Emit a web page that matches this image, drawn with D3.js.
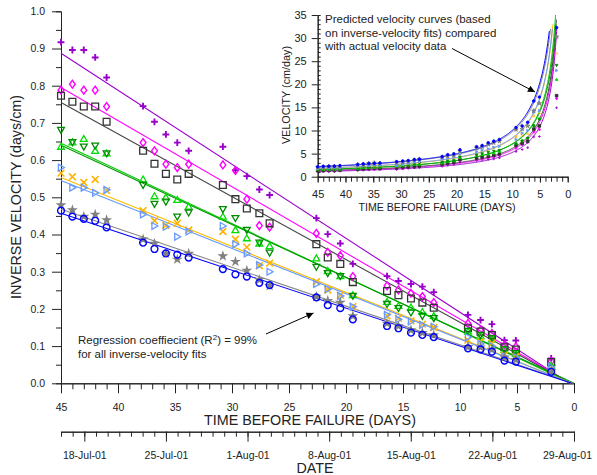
<!DOCTYPE html>
<html>
<head>
<meta charset="utf-8">
<title>Inverse velocity vs time before failure</title>
<script src="https://d3js.org/d3.v7.min.js"></script>
<style>
  body { margin: 0; background: #fff; }
  svg { font-family: "Liberation Sans", Arial, sans-serif; }
  .axis path, .axis line { stroke: #222; }
  .axis text { fill: #222; }
</style>
</head>
<body>
<div id="chart"></div>
<script>
// days before failure at which readings were plotted
const days = [45, 44, 43, 42, 41, 37.8, 36.8, 35.8, 34.8, 33.8,
  30.8, 29.7, 28.7, 27.6, 26.7, 22.6, 21.6, 20.5, 19.4,
  16.4, 15.4, 14.3, 13.3, 12.3, 9.3, 8.2, 7.2, 6.1, 5.1, 2.0];

// inverse velocity (days/cm), one array per monitoring point
const invPurple = [0.917, 0.896, 0.896, 0.876, 0.822, 0.745, 0.703, 0.669, 0.647, 0.625,
  0.636, 0.573, 0.557, 0.521, 0.506, 0.444, 0.401, 0.376, 0.321,
  0.288, 0.275, 0.267, 0.260, 0.245, 0.184, 0.170, 0.159, 0.116, 0.115, 0.067];
const invMagenta = [0.788, 0.804, 0.788, 0.788, 0.744, 0.647, 0.625, 0.589, 0.580, 0.589,
  0.587, 0.572, 0.495, 0.424, 0.420, 0.403, 0.352, 0.343, 0.287,
  0.262, 0.251, 0.242, 0.233, 0.217, 0.161, 0.143, 0.134, 0.103, 0.098, 0.059];
const invBlack = [0.773, 0.757, 0.744, 0.744, 0.703, 0.625, 0.590, 0.563, 0.548, 0.563,
  0.533, 0.495, 0.470, 0.457, 0.430, 0.374, 0.338, 0.321, 0.272,
  0.248, 0.237, 0.228, 0.217, 0.203, 0.148, 0.139, 0.130, 0.097, 0.091, 0.057];
const invGreen = [0.636, 0.648, 0.657, 0.625, 0.618, 0.548, 0.503, 0.500, 0.493, 0.475,
  0.448, 0.412, 0.390, 0.376, 0.369, 0.336, 0.302, 0.288, 0.237,
  0.219, 0.208, 0.204, 0.192, 0.181, 0.139, 0.127, 0.118, 0.090, 0.079, 0.0475];
const invDarkGreen = [0.681, 0.648, 0.636, 0.639, 0.618, 0.533, 0.482, 0.488, 0.448, 0.459,
  0.468, 0.444, 0.412, 0.378, 0.351, 0.313, 0.296, 0.288, 0.235,
  0.213, 0.202, 0.190, 0.181, 0.175, 0.141, 0.130, 0.121, 0.091, 0.081, 0.0415];
const invOrange = [0.565, 0.555, 0.540, 0.548, 0.518, 0.464, 0.437, 0.425, 0.430, 0.412,
  0.408, 0.387, 0.366, 0.316, 0.323, 0.273, 0.251, 0.237, 0.206,
  0.181, 0.175, 0.168, 0.159, 0.150, 0.116, 0.112, 0.108, 0.076, 0.072, 0.0375];
const invLightBlue = [0.580, 0.526, 0.526, 0.512, 0.520, 0.454, 0.423, 0.421, 0.394, 0.408,
  0.423, 0.374, 0.349, 0.318, 0.300, 0.267, 0.253, 0.235, 0.206,
  0.184, 0.172, 0.166, 0.157, 0.152, 0.124, 0.106, 0.100, 0.072, 0.070, 0.0435];
const invGray = [0.479, 0.466, 0.448, 0.454, 0.439, 0.387, 0.376, 0.349, 0.333, 0.349,
  0.342, 0.327, 0.303, 0.278, 0.262, 0.233, 0.222, 0.217, 0.181,
  0.161, 0.154, 0.143, 0.136, 0.130, 0.098, 0.097, 0.091, 0.070, 0.063, 0.033];
const invBlue = [0.464, 0.448, 0.442, 0.437, 0.419, 0.378, 0.361, 0.349, 0.346, 0.338,
  0.307, 0.293, 0.287, 0.270, 0.264, 0.231, 0.210, 0.202, 0.172,
  0.154, 0.148, 0.136, 0.130, 0.124, 0.094, 0.091, 0.085, 0.061, 0.058, 0.031];

// linear fits: inverse velocity at 45 days, and the day where the fit reaches zero
const fitAt45 = [0.887, 0.795, 0.755, 0.645, 0.640, 0.553, 0.545, 0.468, 0.457];
const fitZero = [0.4, 0.3, 0.3, 0.2, 0.0, 0.2, 0.2, 0.1, 0.2];
// highest predicted velocity drawn for each curve in the inset (cm/day)
const insetTop = [32, 30, 34, 35, 33, 33, 32, 32, 31.5];

// ticks
const dayTicks = [45, 40, 35, 30, 25, 20, 15, 10, 5, 0];
const invTicks = [0, 0.1, 0.2, 0.3, 0.4, 0.5, 0.6, 0.7, 0.8, 0.9, 1.0];
const velTicks = [0, 5, 10, 15, 20, 25, 30, 35];
const dateTicks = ["2001-07-18", "2001-07-25", "2001-08-01", "2001-08-08",
  "2001-08-15", "2001-08-22", "2001-08-29"];
const dateStart = "2001-07-16", dateEnd = "2001-08-29";

// marker shapes (path for half-size r)
const shapes = {
  plus: r => `M${-r},0H${r}M0,${-r}V${r}`,
  times: r => `M${-r},${-r}L${r},${r}M${-r},${r}L${r},${-r}`,
  square: r => `M${-r},${-r}h${2 * r}v${2 * r}h${-2 * r}Z`,
  diamond: r => `M0,${-r * 1.15}L${r * 0.85},0L0,${r * 1.15}L${-r * 0.85},0Z`,
  triUp: r => `M0,${-r}L${r},${r * 0.75}L${-r},${r * 0.75}Z`,
  triDown: r => `M0,${r}L${r},${-r * 0.75}L${-r},${-r * 0.75}Z`,
  triRight: r => `M${r},0L${-r * 0.75},${-r}L${-r * 0.75},${r}Z`,
  star: r => d3.symbol().type(d3.symbolStar).size(r * r * 3.2)(),
  circle: r => `M${r},0A${r},${r} 0 1,1 ${-r},0A${r},${r} 0 1,1 ${r},0`
};

const series = [
  {vals: invPurple, color: "#9900cc", line: "#9900cc", shape: "plus", sw: 1.9},
  {vals: invMagenta, color: "#ff00ff", line: "#ff00ff", shape: "diamond", sw: 1.4},
  {vals: invBlack, color: "#333333", line: "#444444", shape: "square", sw: 1.3},
  {vals: invGreen, color: "#00dd00", line: "#00cc00", shape: "triUp", sw: 1.3},
  {vals: invDarkGreen, color: "#008c00", line: "#009900", shape: "triDown", sw: 1.3},
  {vals: invOrange, color: "#ffb300", line: "#ffbb00", shape: "times", sw: 1.6},
  {vals: invLightBlue, color: "#6699ff", line: "#6699ff", shape: "triRight", sw: 1.3},
  {vals: invGray, color: "#808080", line: "#888888", shape: "star", sw: 0, fill: true},
  {vals: invBlue, color: "#0000ff", line: "#0000ff", shape: "circle", sw: 1.4}
].map((s, i) => ({...s, a45: fitAt45[i], t0: fitZero[i], top: insetTop[i]}));

const svg = d3.select("#chart").append("svg")
  .attr("width", 597).attr("height", 475);

svg.append("defs").append("marker")
  .attr("id", "arrow").attr("viewBox", "0 0 10 10")
  .attr("refX", 10).attr("refY", 5)
  .attr("markerWidth", 9).attr("markerHeight", 7)
  .attr("markerUnits", "userSpaceOnUse")
  .attr("orient", "auto")
  .append("path").attr("d", "M0,0L10,5L0,10Z").attr("fill", "#000");

// ---------- main chart ----------
const x = d3.scaleLinear().domain([45, 0]).range([61, 574]);
const y = d3.scaleLinear().domain([0, 1]).range([383.3, 11.3]);
const xDate = d3.scaleTime().domain([new Date(dateStart + "T00:00"), new Date(dateEnd + "T00:00")]).range([61, 574]);

function styleAxis(g, size) {
  g.attr("class", "axis").attr("font-family", null).attr("font-size", size);
  g.select(".domain").attr("stroke-width", 1);
}

// minor ticks first
svg.append("g").attr("transform", "translate(61,0)")
  .call(d3.axisLeft(y).tickValues(d3.range(0.05, 1, 0.1)).tickSize(5).tickFormat(""))
  .call(styleAxis, 10.5);
svg.append("g").attr("transform", "translate(61,0)")
  .call(d3.axisLeft(y).tickValues(invTicks).tickSize(9).tickPadding(7).tickFormat(d3.format(".1f")).tickSizeOuter(0))
  .call(styleAxis, 10.5);

svg.append("g").attr("transform", "translate(0,383.3)")
  .call(d3.axisBottom(x).tickValues(d3.range(0, 46)).tickSize(6).tickFormat("").tickSizeOuter(0))
  .call(styleAxis, 10.5);
svg.append("g").attr("transform", "translate(0,383.3)")
  .call(d3.axisBottom(x).tickValues(dayTicks).tickSize(10).tickPadding(10).tickSizeOuter(0))
  .call(styleAxis, 10.5);

// date axis
svg.append("g").attr("transform", "translate(0,431.7)")
  .call(d3.axisBottom(xDate).tickValues(d3.timeDay.range(xDate.domain()[0], d3.timeDay.offset(xDate.domain()[1], 1)))
    .tickSize(5).tickFormat("").tickSizeOuter(0))
  .call(styleAxis, 10.5);
const dateAxis = svg.append("g").attr("transform", "translate(0,431.7)")
  .call(d3.axisBottom(xDate).tickValues(dateTicks.map(d => new Date(d + "T00:00")))
    .tickSize(10).tickPadding(10).tickFormat(d3.timeFormat("%-d-%b-%y")).tickSizeOuter(0))
  .call(styleAxis, 10.5);
// last date label sits a little left so it stays inside the page
dateAxis.selectAll(".tick text").filter((d, i, n) => i === n.length - 1).attr("dx", -7);

svg.append("text").attr("x", 310).attr("y", 425).attr("text-anchor", "middle")
  .attr("font-size", 14.3).attr("fill", "#222").text("TIME BEFORE FAILURE (DAYS)");
svg.append("text").attr("x", 315).attr("y", 473).attr("text-anchor", "middle")
  .attr("font-size", 14.3).attr("fill", "#222").text("DATE");
svg.append("text").attr("transform", "translate(20.5,197) rotate(-90)").attr("text-anchor", "middle")
  .attr("font-size", 14.3).attr("fill", "#222").text("INVERSE VELOCITY (days/cm)");

// fitted lines
const fitLine = d3.line().x(d => x(d[0])).y(d => y(d[1]));
svg.append("g").selectAll("path").data(series).join("path")
  .attr("fill", "none")
  .attr("stroke", s => s.line)
  .attr("stroke-width", 1.1)
  .attr("d", s => fitLine([[45, s.a45], [s.t0, 0]]));

// data markers
series.forEach(s => {
  svg.append("g").selectAll("path").data(s.vals).join("path")
    .attr("transform", (v, i) => `translate(${x(days[i])},${y(v)})`)
    .attr("d", shapes[s.shape](s.shape === "star" ? 3.4 : 3.4))
    .attr("fill", s.fill ? s.color : "none")
    .attr("stroke", s.fill ? "none" : s.color)
    .attr("stroke-width", s.sw);
});

// annotation
const note = svg.append("text").attr("x", 78).attr("y", 344).attr("font-size", 11.5).attr("fill", "#222");
note.append("tspan").text("Regression coeffiecient (R");
note.append("tspan").attr("font-size", 8).attr("dy", -4.5).text("2");
note.append("tspan").attr("dy", 4.5).text(") = 99%");
svg.append("text").attr("x", 78).attr("y", 357.5).attr("font-size", 11.5).attr("fill", "#222")
  .text("for all inverse-velocity fits");
svg.append("line").attr("x1", 266).attr("y1", 334).attr("x2", 313.5).attr("y2", 313)
  .attr("stroke", "#000").attr("stroke-width", 1).attr("marker-end", "url(#arrow)");

// ---------- inset: predicted velocity ----------
const ix = d3.scaleLinear().domain([45, 0]).range([317.7, 567.7]);
const iy = d3.scaleLinear().domain([0, 35]).range([176.7, 15]);

svg.append("g").attr("transform", "translate(317.7,0)")
  .call(d3.axisRight(iy).tickValues(d3.range(0, 36)).tickSize(3).tickFormat("").tickSizeOuter(0))
  .call(styleAxis, 11);
svg.append("g").attr("transform", "translate(317.7,0)")
  .call(d3.axisLeft(iy).tickValues(velTicks).tickSize(6).tickPadding(5).tickSizeOuter(0))
  .call(styleAxis, 11);
svg.append("g").attr("transform", "translate(0,176.7)")
  .call(d3.axisBottom(ix).tickValues(d3.range(0, 46)).tickSize(5).tickFormat("").tickSizeOuter(0))
  .call(styleAxis, 11);
svg.append("g").attr("transform", "translate(0,176.7)")
  .call(d3.axisBottom(ix).tickValues(dayTicks).tickSize(6).tickPadding(8).tickSizeOuter(0))
  .call(styleAxis, 11);

svg.append("text").attr("x", 437).attr("y", 210.5).attr("text-anchor", "middle")
  .attr("font-size", 10.6).attr("fill", "#222").text("TIME BEFORE FAILURE (DAYS)");
svg.append("text").attr("transform", "translate(290,95) rotate(-90)").attr("text-anchor", "middle")
  .attr("font-size", 10.8).attr("fill", "#222").text("VELOCITY (cm/day)");

// predicted curves: velocity = 1 / fitted inverse velocity
const curve = d3.line().x(d => ix(d[0])).y(d => iy(d[1]));
svg.append("g").selectAll("path").data(series).join("path")
  .attr("fill", "none")
  .attr("stroke", s => s.line)
  .attr("stroke-width", 1)
  .attr("d", s => {
    const k = s.a45 / (45 - s.t0);
    const tEnd = s.t0 + 1 / (k * s.top);
    const ts = d3.range(45, tEnd, -0.1).concat([tEnd]);
    return curve(ts.map(t => [t, 1 / (k * (t - s.t0))]));
  });

// measured velocities
series.forEach(s => {
  svg.append("g").selectAll("path").data(s.vals).join("path")
    .attr("transform", (v, i) => `translate(${ix(days[i])},${iy(1 / v)})`)
    .attr("d", shapes[s.shape](1.3))
    .attr("fill", s.color)
    .attr("stroke", s.color)
    .attr("stroke-width", 0.9);
});

const inNote = ["Predicted velocity curves (based", "on inverse-velocity fits) compared", "with actual velocity data"];
svg.append("g").selectAll("text").data(inNote).join("text")
  .attr("x", 325).attr("y", (d, i) => 23.3 + i * 13.5)
  .attr("font-size", 11.5).attr("fill", "#222").text(d => d);
svg.append("line").attr("x1", 452).attr("y1", 48.5).attr("x2", 535).attr("y2", 92)
  .attr("stroke", "#000").attr("stroke-width", 1).attr("marker-end", "url(#arrow)");
</script>
</body>
</html>
